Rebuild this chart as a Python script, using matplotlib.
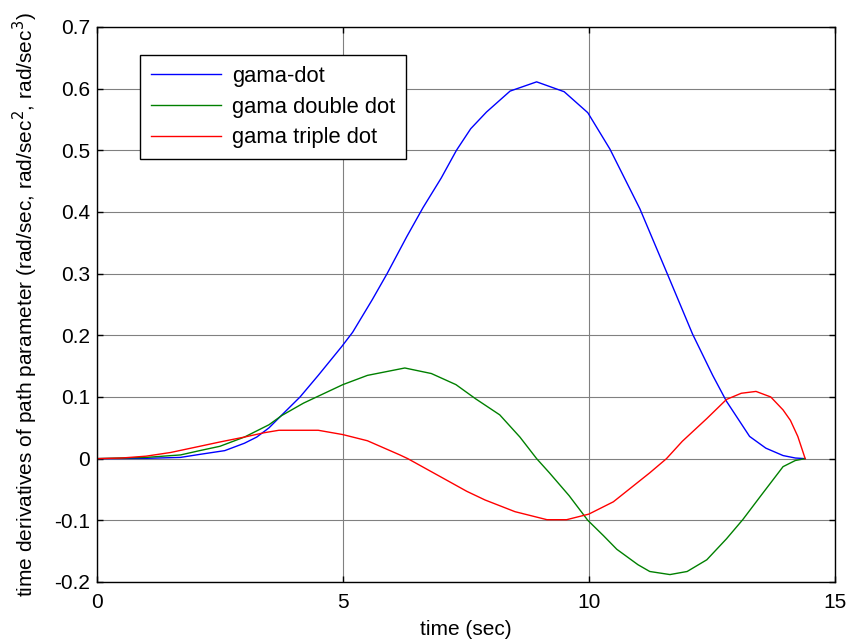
import numpy as np
import matplotlib
matplotlib.use("Agg")
import matplotlib.pyplot as plt

plt.rcParams['font.family'] = ['Liberation Sans', 'DejaVu Sans']

# gama-dot
t_blue = [0, 1.0, 1.7, 2.1, 2.6, 3.0, 3.25, 3.5, 3.75, 4.13, 4.5, 4.98, 5.2, 5.6, 5.9,
          6.3, 6.63, 7.0, 7.31, 7.6, 7.92, 8.4, 8.94, 9.5, 9.98, 10.43, 11.04, 11.59,
          12.11, 12.52, 12.8, 13.27, 13.6, 13.95, 14.2, 14.4]
v_blue = [0, 0.0005, 0.002, 0.007, 0.013, 0.025, 0.035, 0.05, 0.07, 0.1, 0.135, 0.182,
          0.205, 0.258, 0.30, 0.36, 0.407, 0.455, 0.50, 0.535, 0.562, 0.596, 0.611,
          0.595, 0.561, 0.502, 0.405, 0.301, 0.202, 0.135, 0.093, 0.036, 0.017, 0.005,
          0.001, 0]

# gama double dot
t_green = [0, 1.0, 1.7, 2.09, 2.5, 3.0, 3.5, 3.76, 4.2, 4.6, 5.0, 5.5, 6.26, 6.8, 7.3,
           7.7, 8.19, 8.6, 8.94, 9.2, 9.6, 9.98, 10.3, 10.57, 11.0, 11.24, 11.65, 12.0,
           12.4, 12.8, 13.13, 13.5, 13.95, 14.2, 14.4]
v_green = [0, 0.002, 0.006, 0.013, 0.02, 0.035, 0.055, 0.07, 0.09, 0.105, 0.12, 0.135,
           0.147, 0.138, 0.12, 0.097, 0.071, 0.035, 0, -0.023, -0.06, -0.1, -0.125,
           -0.147, -0.172, -0.183, -0.188, -0.183, -0.164, -0.13, -0.099, -0.06, -0.013,
           -0.003, 0]

# gama triple dot
t_red = [0, 0.5, 1.0, 1.5, 2.09, 2.5, 3.0, 3.4, 3.7, 4.5, 5.0, 5.5, 6.16, 6.32, 7.0,
         7.52, 7.89, 8.5, 9.15, 9.55, 10.0, 10.5, 11.24, 11.58, 11.9, 12.4, 12.8, 13.1,
         13.4, 13.7, 13.95, 14.1, 14.25, 14.4]
v_red = [0, 0.001, 0.004, 0.01, 0.02, 0.027, 0.035, 0.042, 0.046, 0.046, 0.039, 0.029,
         0.006, 0, -0.03, -0.053, -0.067, -0.086, -0.099, -0.099, -0.09, -0.07, -0.023,
         0, 0.028, 0.065, 0.096, 0.106, 0.109, 0.1, 0.079, 0.062, 0.036, 0]

FS = 15

fig = plt.figure(figsize=(8.5, 6.42), dpi=100)
ax = fig.add_axes([0.114, 0.0935, 0.868, 0.8645])

ax.plot(t_blue, v_blue, color=(0, 0, 1), lw=1, label='gama-dot')
ax.plot(t_green, v_green, color=(0, 0.5, 0), lw=1, label='gama double dot')
ax.plot(t_red, v_red, color=(1, 0, 0), lw=1, label='gama triple dot')

ax.set_xlim(0, 15)
ax.set_ylim(-0.2, 0.7)
ax.set_xticks([0, 5, 10, 15])
ax.set_yticks(np.round(np.arange(-0.2, 0.71, 0.1), 1))
ax.set_yticklabels(['-0.2', '-0.1', '0', '0.1', '0.2', '0.3', '0.4', '0.5', '0.6', '0.7'])
ax.grid(True, color='#808080', lw=0.8)
ax.tick_params(direction='in', top=True, right=True, labelsize=FS, length=4, width=1)
ax.tick_params(axis='x', pad=8)
ax.tick_params(axis='y', pad=5)
for s in ax.spines.values():
    s.set_linewidth(1)

ax.set_xlabel('time (sec)', fontsize=FS, labelpad=6)
ax.set_ylabel('time derivatives of path parameter (rad/sec, rad/sec$^2$, rad/sec$^3$)',
              fontsize=FS, labelpad=10)

leg = ax.legend(loc='upper left', bbox_to_anchor=(0.058, 0.95), fancybox=False,
                edgecolor='black', framealpha=1, fontsize=15.8, borderaxespad=0,
                handlelength=3.2, handletextpad=0.5, labelspacing=0.45, borderpad=0.5)
leg.get_frame().set_linewidth(1)

fig.savefig('out.png', dpi=100)
